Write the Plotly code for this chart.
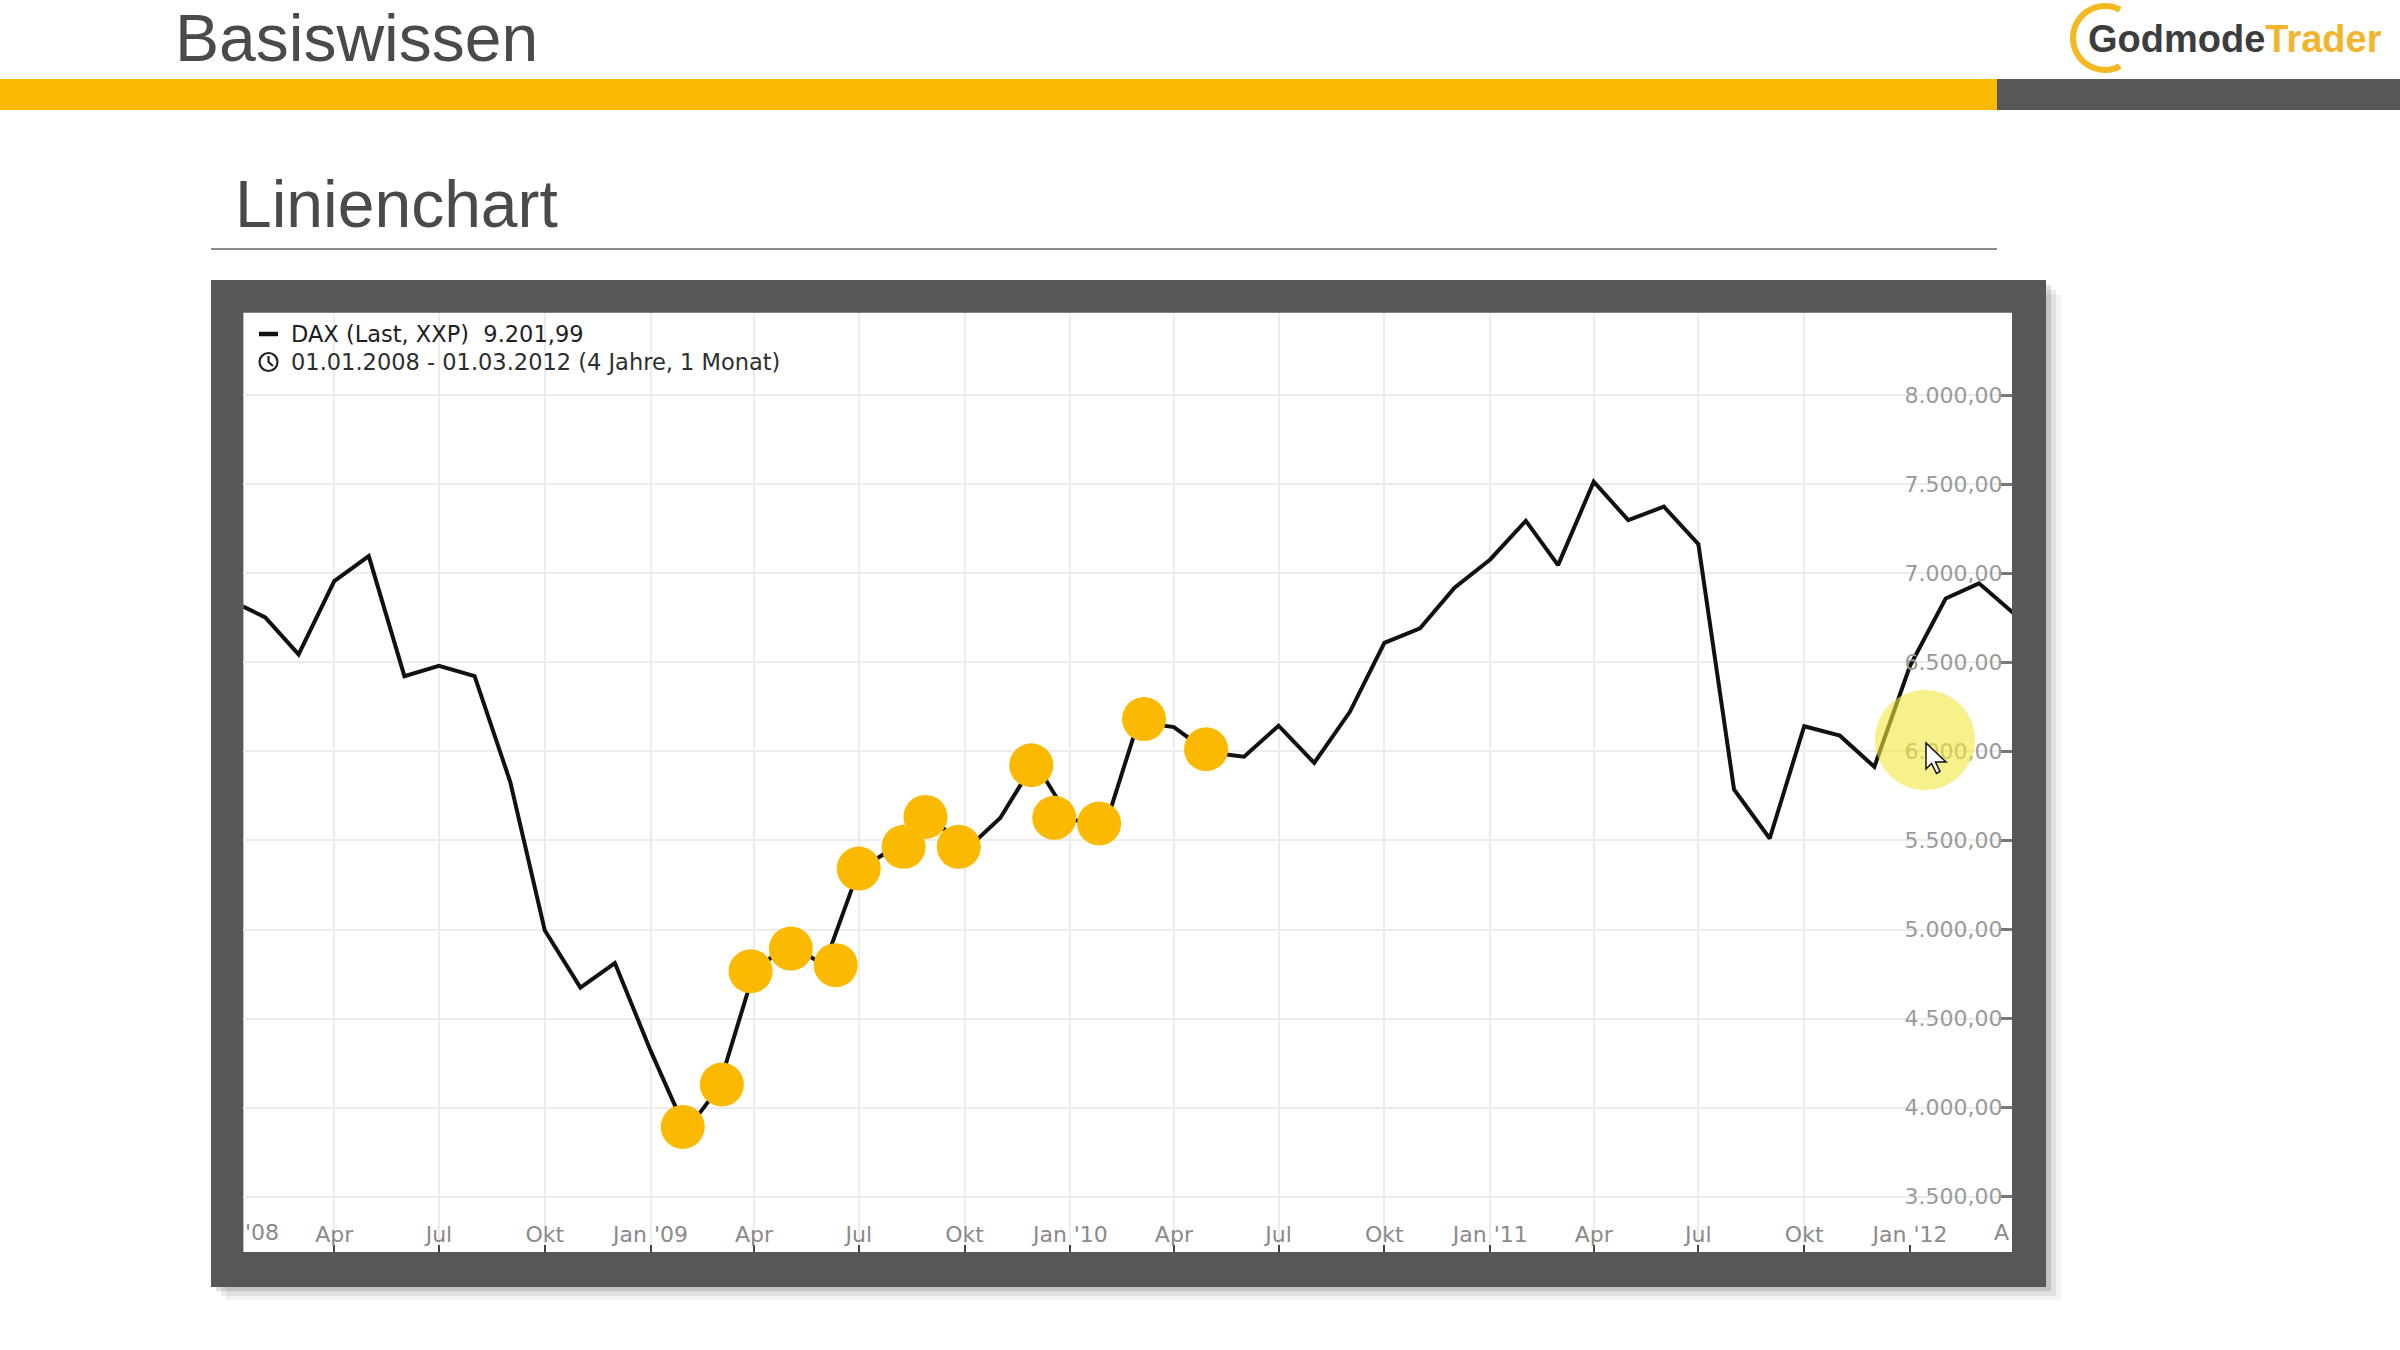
import math
import pandas as pd
import plotly.graph_objects as go

W, H = 2400, 1350

# DAX monthly values, plotted at the first of each month (Jan 2008 .. Apr 2012)
months = pd.date_range("2008-01-01", periods=52, freq="MS")
dax_close = [
    6850, 6752, 6544, 6956, 7096, 6422, 6480, 6422, 5829, 4996, 4674, 4812,   # 2008
    4320, 3870, 4110, 4766, 4920, 4800, 5335, 5460, 5650, 5440, 5626, 5940,   # 2009
    5615, 5595, 6165, 6136, 5995, 5970, 6144, 5935, 6222, 6609, 6690, 6918,   # 2010
    7077, 7294, 7045, 7513, 7298, 7373, 7163, 5786, 5511, 6141, 6088, 5913,   # 2011
    6480, 6858, 6943, 6770,                                                   # 2012
]

# yellow highlight dots placed on the uptrend
dot_dates = ["2009-01-29", "2009-03-04", "2009-03-29", "2009-05-03", "2009-06-11",
             "2009-07-01", "2009-08-09", "2009-08-28", "2009-09-26", "2009-11-28",
             "2009-12-18", "2010-01-26", "2010-03-06", "2010-04-29"]
dot_values = [3892, 4130, 4766, 4893, 4800, 5342, 5464, 5632, 5464, 5922,
              5627, 5595, 6181, 6012]

tick_dates = pd.date_range("2008-04-01", "2012-01-01", freq="QS")
tick_labels = ["Apr", "Jul", "Okt", "Jan '09", "Apr", "Jul", "Okt", "Jan '10",
               "Apr", "Jul", "Okt", "Jan '11", "Apr", "Jul", "Okt", "Jan '12"]
y_ticks = [3500, 4000, 4500, 5000, 5500, 6000, 6500, 7000, 7500, 8000]

cursor_date, cursor_value = "2012-01-14", 6064

YELLOW = "#FBBA00"
DARK = "#565757"
X_RANGE = ["2008-01-13", "2012-03-29 16:00"]
Y_RANGE = [3190, 8462]


def px(x):
    return x / W


def py(y):
    return 1 - y / H


def rect(x0, y0, x1, y1, color, layer="below"):
    return dict(type="rect", xref="paper", yref="paper", x0=px(x0), x1=px(x1),
                y0=py(y1), y1=py(y0), fillcolor=color, line_width=0, layer=layer)


def arc_path(cx, cy, r, a0, a1, nseg=4):
    step = (a1 - a0) / nseg
    k = 4 / 3 * math.tan(math.radians(step) / 4)

    def p(ux, uy):
        return f"{px(cx + r * ux):.5f},{py(cy - r * uy):.5f}"

    a = math.radians(a0)
    path = "M " + p(math.cos(a), math.sin(a))
    for i in range(nseg):
        a = math.radians(a0 + i * step)
        b = math.radians(a0 + (i + 1) * step)
        c1 = (math.cos(a) - k * math.sin(a), math.sin(a) + k * math.cos(a))
        c2 = (math.cos(b) + k * math.sin(b), math.sin(b) - k * math.cos(b))
        path += " C " + p(*c1) + " " + p(*c2) + " " + p(math.cos(b), math.sin(b))
    return path


def poly_path(points):
    return "M " + " L ".join(f"{px(x):.5f},{py(y):.5f}" for x, y in points) + " Z"


fig = go.Figure()
fig.add_trace(go.Scatter(x=months, y=dax_close, mode="lines",
                         line=dict(color="#111111", width=4), hoverinfo="skip"))
# dots sit on an overlay pair of axes (same ranges) that also carries the date labels
fig.add_trace(go.Scatter(x=dot_dates, y=dot_values, mode="markers", xaxis="x2", yaxis="y2",
                         marker=dict(color=YELLOW, size=44, line_width=0), hoverinfo="skip"))

shapes = [
    # frame shadow + frame + white chart area
    rect(226, 295, 2061, 1300, "rgba(0,0,0,0.05)"),
    rect(221, 290, 2056, 1296, "rgba(0,0,0,0.08)"),
    rect(216, 285, 2051, 1291, "rgba(0,0,0,0.12)"),
    rect(211, 280, 2046, 1287, DARK),
    rect(243.4, 312.7, 2012, 1252, "white"),
    # header bars
    rect(0, 79, 1997, 110, YELLOW),
    rect(1997, 79, 2400, 110, DARK),
    dict(type="line", xref="paper", yref="paper", x0=px(211), x1=px(1997),
         y0=py(249), y1=py(249), line=dict(color="#8c8c8c", width=2)),
    # legend symbols
    dict(type="line", xref="paper", yref="paper", x0=px(259), x1=px(278),
         y0=py(334), y1=py(334), line=dict(color="#111", width=4.5)),
    dict(type="circle", xref="paper", yref="paper", x0=px(259.5), x1=px(277.5),
         y0=py(371), y1=py(353), line=dict(color="#222", width=2.2)),
    dict(type="path", xref="paper", yref="paper",
         path=f"M {px(268.5)},{py(356)} L {px(268.5)},{py(362)} L {px(273)},{py(366)}",
         line=dict(color="#222", width=2.2)),
    # logo ring
    dict(type="path", xref="paper", yref="paper", path=arc_path(2105, 38, 32, 62, 298),
         line=dict(color="#F4B820", width=6)),
    # presenter cursor highlight
    dict(type="circle", xref="x", yref="y", xsizemode="pixel", ysizemode="pixel",
         xanchor=cursor_date, yanchor=cursor_value, x0=-50, x1=50, y0=-50, y1=50,
         fillcolor="rgba(240,232,60,0.6)", line_width=0, layer="above"),
    dict(type="path", xref="paper", yref="paper", layer="above",
         path=poly_path([(1926, 743), (1926, 769), (1931.5, 763.5), (1936.5, 773.5),
                         (1940, 771.5), (1935.5, 762), (1946, 762)]),
         fillcolor="white", line=dict(color="#111", width=1.5)),
]

tick_font = dict(family="DejaVu Sans", size=22, color="#8a8a8a")

annotations = [
    dict(text="Basiswissen", x=px(173), y=py(38), xanchor="left", yanchor="middle",
         font=dict(family="Liberation Sans", size=66, color="#4a4a4a")),
    dict(text="Linienchart", x=px(233), y=py(204), xanchor="left", yanchor="middle",
         font=dict(family="Liberation Sans", size=66, color="#4a4a4a")),
    dict(text="<b><span style='color:#3d3d3d'>Godmode</span>"
              "<span style='color:#F3B52E'>Trader</span></b>",
         x=px(2086), y=py(39), xanchor="left", yanchor="middle",
         font=dict(family="Liberation Sans", size=38)),
    dict(text="DAX (Last, XXP) \u00a09.201,99", x=px(289), y=py(334), xanchor="left",
         yanchor="middle", font=dict(family="DejaVu Sans", size=22.5, color="#1e1e1e")),
    dict(text="01.01.2008 - 01.03.2012 (4 Jahre, 1 Monat)", x=px(289), y=py(362),
         xanchor="left", yanchor="middle",
         font=dict(family="DejaVu Sans", size=22.5, color="#2e2e2e")),
    # tick labels cut by the chart edges
    dict(text="'08", x=px(243), y=py(1232), xanchor="left", yanchor="middle", font=tick_font),
    dict(text="A", x=px(2011), y=py(1232), xanchor="right", yanchor="middle", font=tick_font),
]
for a in annotations:
    a.update(xref="paper", yref="paper", showarrow=False)

x_domain = [px(243.4), px(2012)]
y_domain = [py(1252), py(312.7)]

fig.update_layout(
    width=W, height=H,
    margin=dict(l=0, r=0, t=0, b=0),
    paper_bgcolor="white", plot_bgcolor="rgba(0,0,0,0)",
    showlegend=False, separators=",.",
    shapes=shapes, annotations=annotations,
    xaxis=dict(type="date", domain=x_domain, range=X_RANGE,
               tickvals=tick_dates, showticklabels=False, ticks="",
               showgrid=True, gridcolor="#ececec", gridwidth=2,
               showline=False, zeroline=False, fixedrange=True),
    xaxis2=dict(type="date", overlaying="x", anchor="y2", range=X_RANGE,
                tickvals=tick_dates, ticktext=tick_labels,
                ticks="inside", ticklen=7, tickwidth=2, tickcolor="#444",
                ticklabelposition="inside", tickfont=tick_font,
                showgrid=False, showline=False, zeroline=False, fixedrange=True),
    yaxis=dict(side="right", domain=y_domain, range=Y_RANGE,
               tickvals=y_ticks, tickformat=",.2f",
               ticks="inside", ticklen=11, tickwidth=2.5, tickcolor="#777",
               ticklabelposition="inside",
               tickfont=dict(family="DejaVu Sans", size=22, color="#9a9a9a"),
               showgrid=True, gridcolor="#ececec", gridwidth=2,
               showline=False, zeroline=False, fixedrange=True),
    yaxis2=dict(overlaying="y", anchor="x2", range=Y_RANGE, visible=False,
                fixedrange=True),
)

# the page should start at the window corner, without the browser's default body margin
fig.write_html("out.html", config={"displayModeBar": False},
               post_script="document.body.style.margin = '0';")
